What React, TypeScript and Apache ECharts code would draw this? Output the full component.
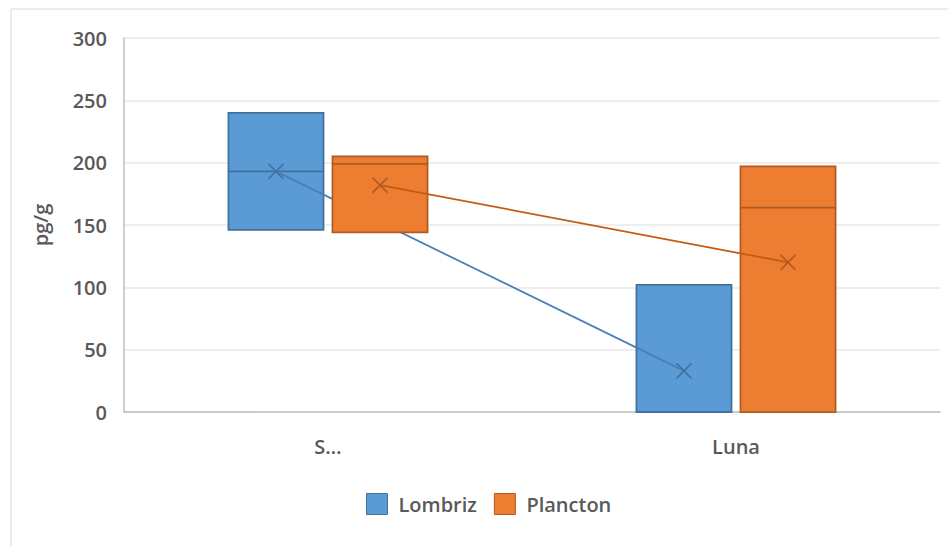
import React, { useEffect, useRef } from "react";
import * as echarts from "echarts";

const categories = ["S…", "Luna"];
const yTicks = { min: 0, max: 300, interval: 50 };
const seriesNames = ["Lombriz", "Plancton"];
// [categoryIndex, Q1, median, Q3, mean]
const lombriz = [
  [0, 146, 193, 240, 193],
  [1, 0, 0, 102, 33],
];
const plancton = [
  [0, 144, 199, 205, 182],
  [1, 0, 164, 197, 120],
];

const FONT = "'Open Sans', 'Noto Sans', sans-serif";
const TXT = "#595959";

function makeSeries(name: string, data: number[][], offset: number, fill: string, stroke: string, lineCol: string, z: number) {
  return {
    type: "custom",
    name,
    z,
    itemStyle: { color: fill, borderColor: stroke },
    encode: { x: 0, y: [1, 2, 3, 4] },
    data,
    renderItem: (params: any, api: any) => {
      const ci = api.value(0);
      const band = api.size([1, 0])[0];
      const c = api.coord([ci, 0]);
      const cx = c[0] + offset * band;
      const w = 0.233 * band;
      const yq1 = api.coord([ci, api.value(1)])[1];
      const ymed = api.coord([ci, api.value(2)])[1];
      const yq3 = api.coord([ci, api.value(3)])[1];
      const ymean = api.coord([ci, api.value(4)])[1];
      const children: any[] = [
        {
          type: "rect",
          z2: 0,
          shape: { x: cx - w / 2, y: yq3, width: w, height: yq1 - yq3 },
          style: { fill, stroke, lineWidth: 1.75 },
        },
        {
          type: "line",
          z2: 1,
          shape: { x1: cx - w / 2, y1: ymed, x2: cx + w / 2, y2: ymed },
          style: { stroke, lineWidth: 1.75 },
        },
      ];
      const idx = params.dataIndex;
      if (idx < data.length - 1) {
        const nx = data[idx + 1];
        const nc = api.coord([nx[0], nx[4]]);
        children.push({
          type: "line",
          z2: 10,
          shape: { x1: cx, y1: ymean, x2: nc[0] + offset * band, y2: nc[1] },
          style: { stroke: lineCol, lineWidth: 1.75 },
        });
      }
      const m = 7.5;
      children.push(
        {
          type: "line",
          z2: 11,
          shape: { x1: cx - m, y1: ymean - m, x2: cx + m, y2: ymean + m },
          style: { stroke, lineWidth: 1.5 },
        },
        {
          type: "line",
          z2: 11,
          shape: { x1: cx - m, y1: ymean + m, x2: cx + m, y2: ymean - m },
          style: { stroke, lineWidth: 1.5 },
        }
      );
      return { type: "group", children };
    },
  };
}

export default function App() {
  const ref = useRef<HTMLDivElement>(null);
  useEffect(() => {
    document.body.style.margin = "0";
    const chart = echarts.init(ref.current!, null, { renderer: "svg" });
    chart.setOption({
      animation: false,
      backgroundColor: "#ffffff",
      textStyle: { fontFamily: FONT },
      graphic: [
        {
          type: "rect",
          shape: { x: 11, y: 9, width: 960, height: 560 },
          style: { fill: "none", stroke: "#d9d9d9", lineWidth: 1 },
          silent: true,
        },
      ],
      grid: { left: 124, right: 8, top: 38, bottom: 134 },
      legend: {
        left: 366,
        top: 493,
        padding: 0,
        itemWidth: 21,
        itemHeight: 21,
        itemGap: 17,
        textStyle: { color: TXT, fontSize: 20, fontWeight: 600, fontFamily: FONT, padding: [0, 0, 0, 6] },
        data: [
          { name: seriesNames[0], icon: "rect", itemStyle: { color: "#5B9BD5", borderColor: "#41719C", borderWidth: 1 } },
          { name: seriesNames[1], icon: "rect", itemStyle: { color: "#ED7D31", borderColor: "#AE5A21", borderWidth: 1 } },
        ],
      },
      xAxis: {
        type: "category",
        data: categories,
        boundaryGap: true,
        axisLine: { show: true, lineStyle: { color: "#bfbfbf", width: 1.5 } },
        axisTick: { show: false },
        axisLabel: { color: TXT, fontSize: 20, fontWeight: 600, fontFamily: FONT, margin: 24 },
        splitLine: { show: false },
      },
      yAxis: {
        type: "value",
        min: yTicks.min,
        max: yTicks.max,
        interval: yTicks.interval,
        name: "pg/g",
        nameLocation: "middle",
        nameGap: 74,
        nameTextStyle: { color: TXT, fontSize: 20, fontWeight: 600, fontFamily: FONT },
        axisLine: { show: true, lineStyle: { color: "#bfbfbf", width: 1.5 } },
        axisTick: { show: false },
        axisLabel: { color: TXT, fontSize: 20, fontWeight: 600, fontFamily: FONT, margin: 17 },
        splitLine: { show: true, lineStyle: { color: "#e8e8e8", width: 1.5 } },
      },
      series: [
        makeSeries(seriesNames[0], lombriz, -0.1275, "#5B9BD5", "#41719C", "#4A7EBB", 2),
        makeSeries(seriesNames[1], plancton, 0.1275, "#ED7D31", "#AE5A21", "#C55A11", 3),
      ],
    });
    return () => chart.dispose();
  }, []);
  return <div ref={ref} style={{ width: 948, height: 546 }} />;
}
